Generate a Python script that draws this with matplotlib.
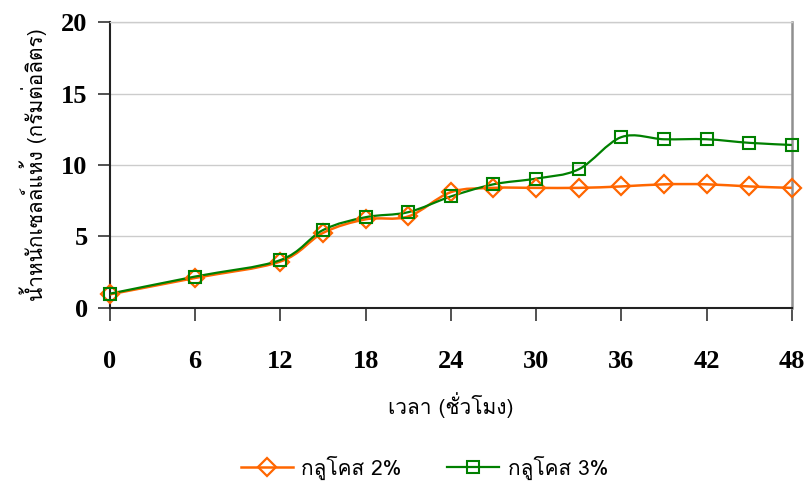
import numpy as np
import matplotlib
matplotlib.use("Agg")
import matplotlib.pyplot as plt
from matplotlib import font_manager
from matplotlib.ft2font import FT2Font
from matplotlib.path import Path
from matplotlib.patches import PathPatch
from matplotlib.lines import Line2D

# -------------------------------
# Data
# -------------------------------
hours = [0, 6, 12, 15, 18, 21, 24, 27, 30, 33, 36, 39, 42, 45, 48]
glucose_2 = [0.95, 2.1, 3.25, 5.25, 6.2, 6.4, 8.1, 8.4, 8.4, 8.4, 8.5, 8.65, 8.65, 8.5, 8.4]
glucose_3 = [1.0, 2.2, 3.35, 5.45, 6.35, 6.7, 7.8, 8.65, 9.05, 9.7, 11.95, 11.8, 11.8, 11.55, 11.4]

x_ticks = [0, 6, 12, 18, 24, 30, 36, 42, 48]
y_ticks = [0, 5, 10, 15, 20]

label_2 = "กลูโคส 2%"
label_3 = "กลูโคส 3%"
x_title = "เวลา (ชั่วโมง)"
y_title = "น้ำหนักเซลล์แห้ง (กรัมต่อลิตร)"


# -------------------------------
# Pick an installed font that has Thai glyphs
# -------------------------------
def find_thai_font():
    for f in font_manager.fontManager.ttflist:
        try:
            if 0x0E01 in FT2Font(f.fname).get_charmap():
                return f.name
        except Exception:
            pass
    return "DejaVu Sans"


thai_font = find_thai_font()
num_font = "Liberation Serif"


# -------------------------------
# Smooth line like Excel (cubic Bezier through the points)
# -------------------------------
def smooth_path(x, y):
    pts = np.column_stack([x, y]).astype(float)
    n = len(pts)
    verts = [pts[0]]
    codes = [Path.MOVETO]
    for i in range(n - 1):
        p0 = pts[i - 1] if i > 0 else pts[i]
        p1 = pts[i]
        p2 = pts[i + 1]
        p3 = pts[i + 2] if i + 2 < n else pts[i + 1]
        verts += [p1 + (p2 - p0) / 6, p2 - (p3 - p1) / 6, p2]
        codes += [Path.CURVE4] * 3
    return Path(verts, codes)


orange = "#FF6600"
green = "#008000"

fig = plt.figure(figsize=(8.08, 4.87), dpi=100)
ax = fig.add_axes([0.136, 0.3676, 0.844, 0.5872])

ax.add_patch(PathPatch(smooth_path(hours, glucose_2), fill=False, edgecolor=orange, lw=1.8, zorder=3))
ax.add_patch(PathPatch(smooth_path(hours, glucose_3), fill=False, edgecolor=green, lw=1.6, zorder=3))
ax.plot(hours, glucose_2, linestyle="none", marker="D", markersize=9, markerfacecolor="none",
        markeredgecolor=orange, markeredgewidth=1.6, clip_on=False, zorder=4)
ax.plot(hours, glucose_3, linestyle="none", marker="s", markersize=8, markerfacecolor="none",
        markeredgecolor=green, markeredgewidth=1.5, clip_on=False, zorder=5)

ax.set_xlim(0, 48)
ax.set_ylim(0, 20)
ax.set_xticks(x_ticks)
ax.set_yticks(y_ticks)
ax.set_xticklabels([str(v) for v in x_ticks], fontfamily=num_font, fontweight="bold", fontsize=19)
ax.set_yticklabels([str(v) for v in y_ticks], fontfamily=num_font, fontweight="bold", fontsize=19)
ax.tick_params(axis="x", direction="out", length=9, width=1.2, pad=21, color="#333333")
ax.tick_params(axis="y", direction="out", length=9, width=1.2, pad=7, color="#333333")

ax.yaxis.grid(True, color="#cccccc", lw=1)
ax.set_axisbelow(True)
for s in ["left", "bottom"]:
    ax.spines[s].set_color("#222222")
    ax.spines[s].set_linewidth(1.5)
ax.spines["top"].set_color("#cccccc")
ax.spines["top"].set_linewidth(1)
ax.spines["right"].set_color("#909090")
ax.spines["right"].set_linewidth(1.8)

ax.set_xlabel(x_title, fontfamily=thai_font, fontsize=15, labelpad=14)
ax.set_ylabel(y_title, fontfamily=thai_font, fontsize=15, labelpad=10)

handles = [
    Line2D([], [], color=orange, lw=1.8, marker="D", markersize=9, markerfacecolor="none",
           markeredgewidth=1.6),
    Line2D([], [], color=green, lw=1.6, marker="s", markersize=8, markerfacecolor="none",
           markeredgewidth=1.5),
]
fig.legend(handles, [label_2, label_3], loc="center", bbox_to_anchor=(0.525, 0.04), ncol=2,
           frameon=False, prop={"family": thai_font, "size": 15}, handlelength=2.5,
           columnspacing=2.2, handletextpad=0.4)

fig.savefig("out.png", dpi=100)
